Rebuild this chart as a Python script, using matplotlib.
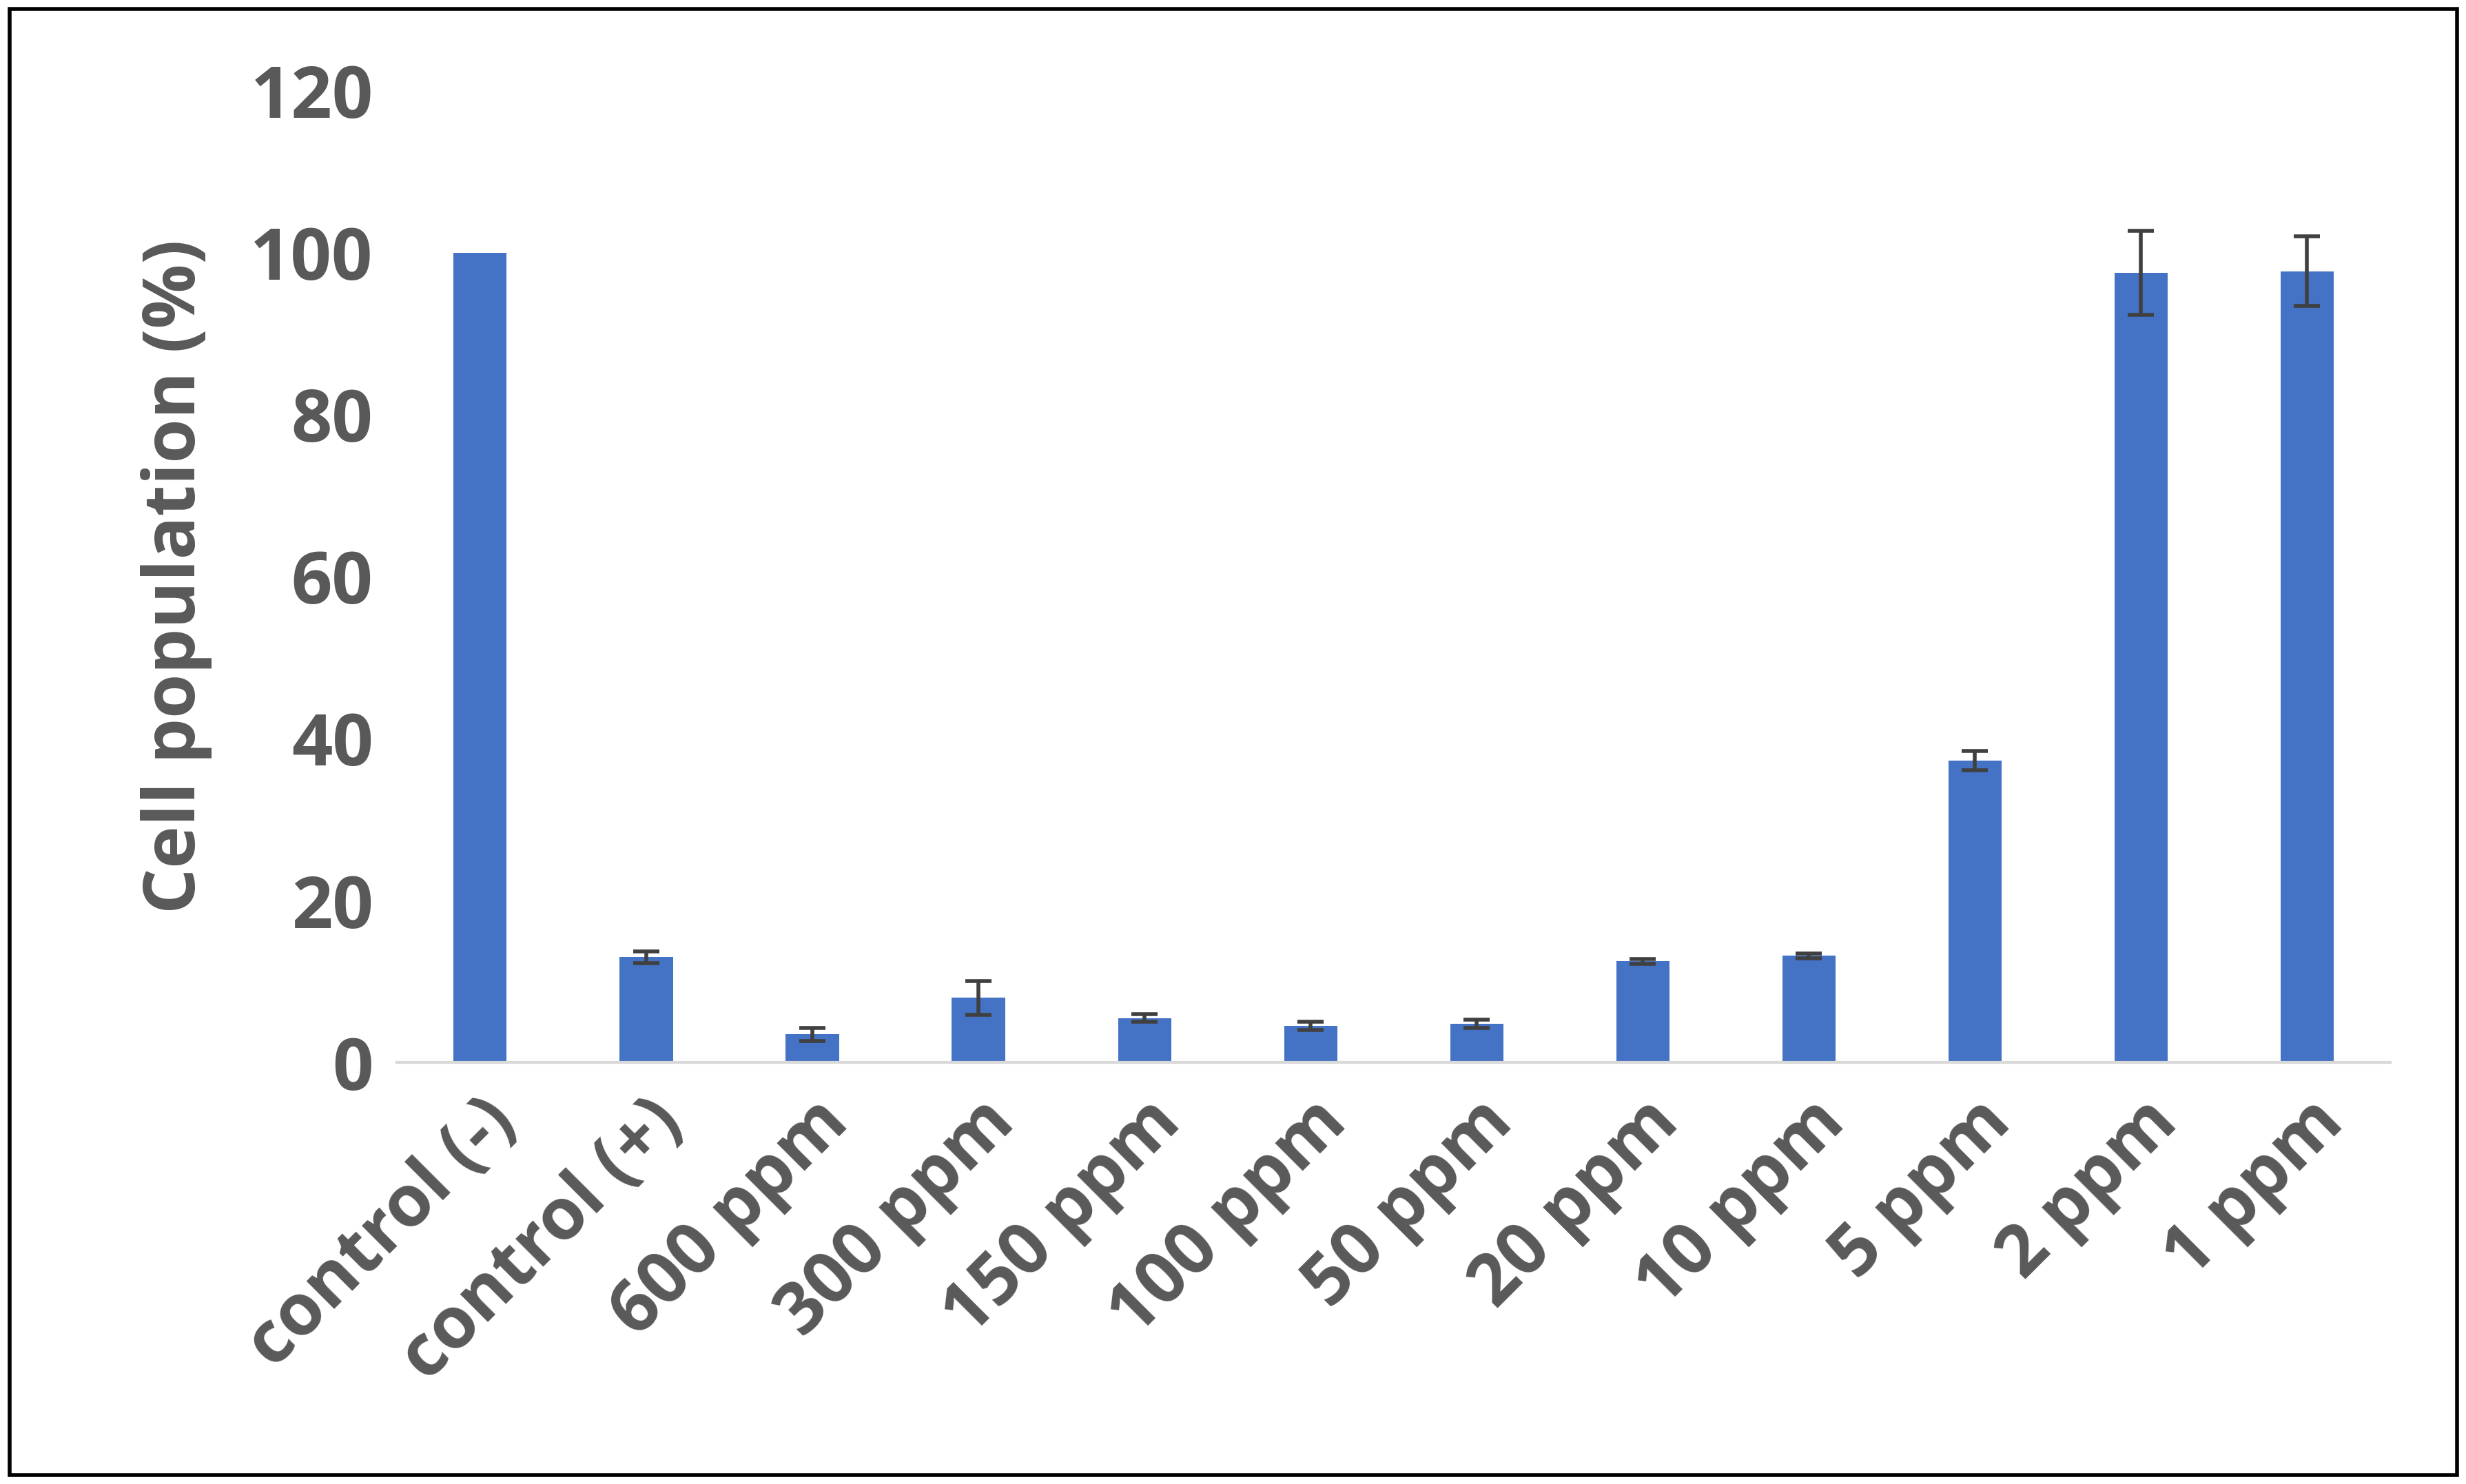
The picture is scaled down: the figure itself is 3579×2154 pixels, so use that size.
import matplotlib
matplotlib.use("Agg")
import matplotlib.pyplot as plt

categories = ["control (-)", "control (+)", "600 ppm", "300 ppm", "150 ppm", "100 ppm",
              "50 ppm", "20 ppm", "10 ppm", "5 ppm", "2 ppm", "1 ppm"]
values = [100, 13.0, 3.5, 8.0, 5.5, 4.5, 4.8, 12.5, 13.2, 37.3, 97.5, 97.7]
errors = [0, 0.7, 0.8, 2.1, 0.5, 0.5, 0.5, 0.3, 0.3, 1.2, 5.2, 4.3]
yticks = [0, 20, 40, 60, 80, 100, 120]

plt.rcParams['font.family'] = ['Open Sans', 'DejaVu Sans']
gray = '#595959'
fs = 75
fig = plt.figure(figsize=(35.8, 21.54), dpi=100)
ax = fig.add_axes([0.161, 0.284, 0.808, 0.655])
x = range(len(categories))
ax.bar(x, values, width=0.32, color='#4472C4', zorder=2)
ax.errorbar([i for i in x if errors[i] > 0], [values[i] for i in x if errors[i] > 0],
            yerr=[errors[i] for i in x if errors[i] > 0], fmt='none', ecolor='#404040',
            elinewidth=4, capsize=14, capthick=4, zorder=3)
ax.set_ylim(0, 120)
ax.set_xlim(-0.5, len(categories) - 0.5)
ax.set_yticks(yticks)
ax.set_yticklabels([str(t) for t in yticks], fontsize=fs, fontweight='bold', color=gray)
ax.set_xticks(list(x))
ax.set_xticklabels(categories, rotation=45, ha='right', rotation_mode='anchor',
                   fontsize=fs, fontweight='bold', color=gray)
ax.set_ylabel("Cell population (%)", fontsize=fs, fontweight='bold', color=gray, labelpad=40)
for s in ['top', 'right', 'left']:
    ax.spines[s].set_visible(False)
ax.spines['bottom'].set_color('#D9D9D9')
ax.spines['bottom'].set_linewidth(3)
ax.tick_params(axis='both', length=0, pad=25)
fig.patches.append(plt.Rectangle((0.004, 0.006), 0.992, 0.988, transform=fig.transFigure,
                                 fill=False, edgecolor='black', linewidth=4))
fig.savefig("out.png", dpi=100)
